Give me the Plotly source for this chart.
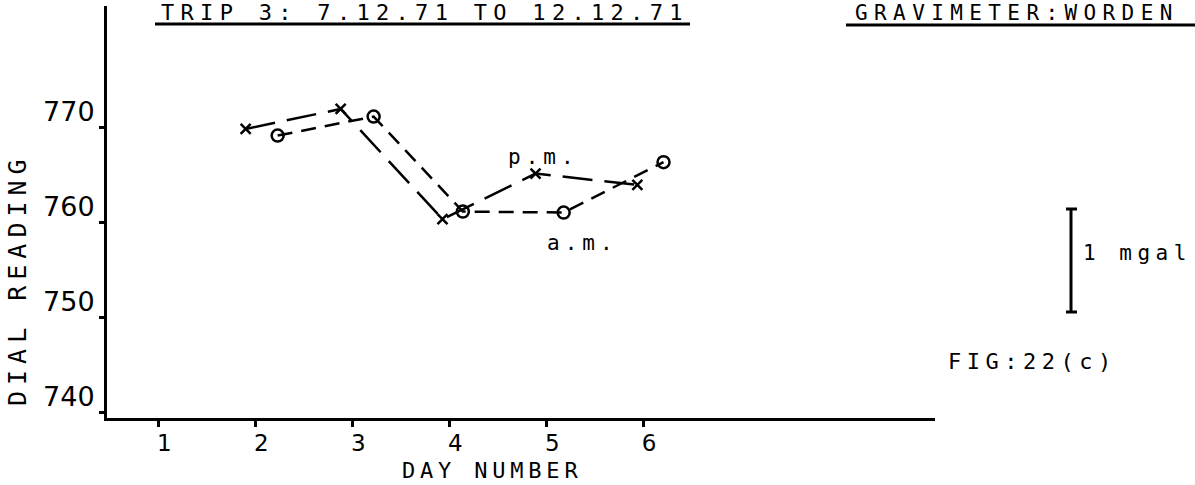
import plotly.graph_objects as go

# ---------------- data ----------------
pm_day = [1.90, 2.88, 3.93, 4.89, 5.94]
pm_reading = [769.8, 771.9, 760.3, 765.1, 763.9]

am_day = [2.23, 3.22, 4.14, 5.18, 6.21]
am_reading = [769.1, 771.1, 761.1, 761.0, 766.3]

x_tick_values = [1, 2, 3, 4, 5, 6]
x_tick_labels = ["1", "2", "3", "4", "5", "6"]
y_tick_values = [740, 750, 760, 770]
y_tick_labels = ["740", "750", "760", "770"]

title_text = "TRIP 3: 7.12.71 TO 12.12.71"
instrument_text = "GRAVIMETER:WORDEN"
x_title = "DAY NUMBER"
y_title = "DIAL READING"
fig_label = "FIG:22(c)"
scale_label = "1 mgal"
pm_label = "p.m."
am_label = "a.m."

# ---------------- layout helpers ----------------
W, H = 1195, 485
L, R, T, B = 107, 260, 6, 67
PW, PH = W - L - R, H - T - B


def px(x):
    return (x - L) / PW


def py(y):
    return (H - B - y) / PH


MONO = "DejaVu Sans Mono"
SANS = "DejaVu Sans"


def spaced(text, sp):
    return f'<span style="letter-spacing:{sp}px">{text}</span>'


fig = go.Figure()

fig.add_trace(go.Scatter(
    x=pm_day, y=pm_reading, mode="lines+markers", name="p.m.",
    line=dict(color="black", width=2.5, dash="30px,12px"),
    marker=dict(symbol="x-thin-open", size=10, color="black",
                line=dict(color="black", width=2.5)),
    showlegend=False,
))
fig.add_trace(go.Scatter(
    x=am_day, y=am_reading, mode="lines+markers", name="a.m.",
    line=dict(color="black", width=2.5, dash="15px,9px"),
    marker=dict(symbol="circle-open", size=12, color="black",
                line=dict(color="black", width=2.5)),
    showlegend=False,
))

annotations = [
    dict(text=spaced(title_text, 6.3), x=px(159), y=py(13), xanchor="left", yanchor="middle",
         font=dict(family=MONO, size=22)),
    dict(text=spaced(instrument_text, 6.4), x=px(853), y=py(13), xanchor="left", yanchor="middle",
         font=dict(family=MONO, size=21)),
    dict(text=spaced(x_title, 4.8), x=px(400), y=py(470), xanchor="left", yanchor="middle",
         font=dict(family=MONO, size=22)),
    dict(text=spaced(y_title, 6), x=px(18), y=py(280), xanchor="center", yanchor="middle",
         textangle=-90, font=dict(family=MONO, size=25)),
    dict(text=spaced(fig_label, 5.5), x=px(946), y=py(361), xanchor="left", yanchor="middle",
         font=dict(family=MONO, size=22)),
    dict(text=spaced(scale_label, 5.5), x=px(1081), y=py(253), xanchor="left", yanchor="middle",
         font=dict(family=MONO, size=21)),
    dict(text=spaced(pm_label, 5), x=px(506), y=py(157), xanchor="left", yanchor="middle",
         font=dict(family=MONO, size=21)),
    dict(text=spaced(am_label, 5), x=px(545), y=py(243), xanchor="left", yanchor="middle",
         font=dict(family=MONO, size=21)),
]
for a in annotations:
    a.update(xref="paper", yref="paper", showarrow=False)
    a["font"]["color"] = "black"

shapes = [
    # title underlines
    dict(x0=px(155), x1=px(690), y0=py(24), y1=py(24)),
    dict(x0=px(846), x1=px(1195), y0=py(25), y1=py(25)),
    # scale bar
    dict(x0=px(1071), x1=px(1071), y0=py(209), y1=py(312)),
    dict(x0=px(1066), x1=px(1077), y0=py(209), y1=py(209)),
    dict(x0=px(1066), x1=px(1077), y0=py(312), y1=py(312)),
]
for s in shapes:
    s.update(type="line", xref="paper", yref="paper", line=dict(color="black", width=3))

fig.update_layout(
    width=W, height=H,
    margin=dict(l=L, r=R, t=T, b=B),
    paper_bgcolor="white", plot_bgcolor="white",
    annotations=annotations, shapes=shapes,
    showlegend=False,
    xaxis=dict(
        range=[0.47, 9.01], showgrid=False, zeroline=False,
        showline=True, linecolor="black", linewidth=3,
        tickmode="array", tickvals=x_tick_values, ticktext=x_tick_labels,
        ticks="outside", ticklen=6, tickwidth=2.5, tickcolor="black",
        ticklabelshift=6, ticklabelstandoff=-4,
        tickfont=dict(family=SANS, size=23, color="black"),
    ),
    yaxis=dict(
        range=[739.37, 782.74], showgrid=False, zeroline=False,
        showline=True, linecolor="black", linewidth=3,
        tickmode="array", tickvals=y_tick_values, ticktext=y_tick_labels,
        ticks="outside", ticklen=5, tickwidth=2.5, tickcolor="black",
        ticklabelshift=-15, ticklabelstandoff=-1,
        tickfont=dict(family=SANS, size=27, color="black"),
    ),
)

fig.write_html("out.html")
